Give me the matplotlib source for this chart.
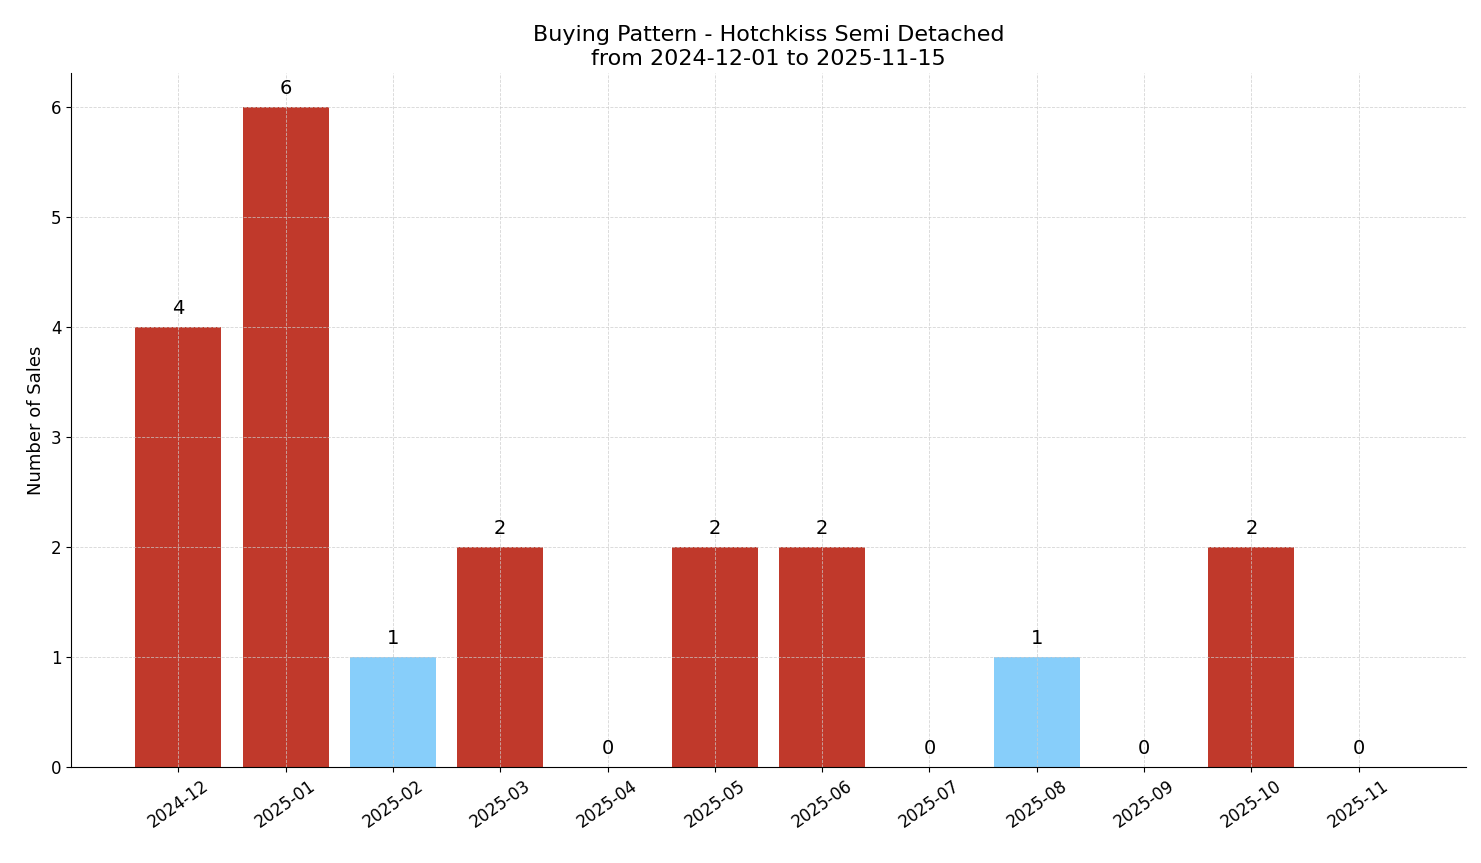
import matplotlib
matplotlib.use("Agg")
import matplotlib.pyplot as plt

months = ["2024-12","2025-01","2025-02","2025-03","2025-04","2025-05","2025-06","2025-07","2025-08","2025-09","2025-10","2025-11"]
sales = [4,6,1,2,0,2,2,0,1,0,2,0]
RED, BLUE = "#c0392b", "#87cefa"
colors = [BLUE if v == 1 else RED for v in sales]

fig = plt.figure(figsize=(14.81, 8.63), dpi=100)
ax = fig.add_axes([71/1481, 1-767/863, (1466-71)/1481, (767-73)/863])
x = list(range(len(months)))
ax.bar(x, sales, width=0.8, color=colors, zorder=2)
for xi, v in zip(x, sales):
    ax.text(xi, v + 0.08, str(v), ha="center", va="bottom", fontsize=14)
ax.set_xticks(x)
ax.set_xticklabels(months, rotation=35, fontsize=12)
ax.tick_params(axis="y", labelsize=12)
ax.set_xlim(-1, 12)
ax.set_ylim(0, 6.31)
ax.set_ylabel("Number of Sales", fontsize=13)
ax.set_title("Buying Pattern - Hotchkiss Semi Detached\nfrom 2024-12-01 to 2025-11-15", fontsize=16)
ax.grid(True, linestyle="--", linewidth=0.6, color="#cccccc", alpha=0.8, zorder=3)
ax.set_axisbelow(False)
for s in ["top", "right"]:
    ax.spines[s].set_visible(False)
fig.savefig("out.png", dpi=100)
